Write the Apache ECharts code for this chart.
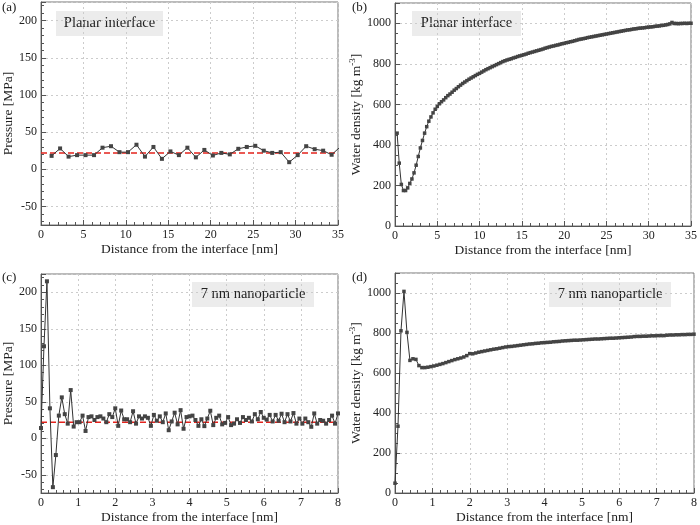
<!DOCTYPE html>
<html>
<head>
<meta charset="utf-8">
<script src="https://cdn.jsdelivr.net/npm/echarts@6/dist/echarts.min.js"></script>
<style>
  html, body { margin: 0; padding: 0; background: #fff; }
  #chart { width: 700px; height: 525px; }
</style>
</head>
<body>
<div id="chart"></div>
<script>
  // (a) pressure, planar interface, samples every 1 nm from 1.25 nm
  var pressureA = [18, 28, 17, 19, 19, 19, 29, 31, 23, 23, 33, 17, 30, 14, 24, 19, 29, 16, 26, 18.5,
    22, 20, 27.5, 30, 31.5, 25, 22, 23, 9.5, 19, 31, 27, 25, 19.5, 30];
  var startA = 1.25, stepA = 1;

  // (b) water density, planar interface, every 0.25 nm
  var densityB = [458, 310, 205, 175, 175, 188, 210, 232, 262, 300, 343, 385, 422, 458, 490, 517, 538, 558, 576, 590,
    603, 613, 622, 633, 643, 651, 660, 670, 678, 687, 695, 703, 710, 717, 724, 730, 736, 742, 748, 753,
    759, 765, 771, 776, 781, 786, 791, 796, 801, 806, 811, 815, 819, 822, 825, 829, 832, 836, 839, 842,
    845, 848, 852, 855, 858, 861, 864, 867, 870, 873, 877, 880, 883, 886, 888, 891, 893, 896, 899, 901,
    904, 906, 909, 911, 914, 917, 920, 922, 924, 926, 929, 931, 933, 935, 937, 939, 941, 943, 945, 947,
    949, 951, 953, 955, 957, 959, 961, 963, 965, 967, 968, 970, 972, 973, 975, 976, 977, 978, 980, 981,
    982, 983, 985, 986, 987, 989, 990, 992, 994, 997, 1004, 999, 999, 998, 999, 999, 1000, 999, 1000, 1000];
  var startB = 0.25, stepB = 0.25;

  // (c) pressure, 7 nm nanoparticle, every 0.08 nm
  var pressureC = [14, 126, 215, 41, -67, -23, 31, 56, 33, 20, 66, 16, 22, 22, 31, 10, 29, 30, 25, 29, 30, 27, 22, 33, 29, 41,
    17, 38, 26, 26, 22, 37, 20, 30, 27, 30, 28, 17,
    32, 24, 30, 22, 34, 11, 23, 35, 19, 38.5, 13, 29,
    30, 31, 25, 17, 26, 16.6, 27, 37.7, 18, 28, 31, 19, 21,
    29, 18, 20, 26, 21, 29, 25, 28, 23, 33, 26, 36,
    28, 25.5, 32, 23, 32, 24, 33.6, 22, 33, 23, 34.5, 20, 27,
    20, 27, 22, 15.7, 34, 20, 25, 24, 20, 25, 31, 20, 34];
  var startC = 0, stepC = 0.08;

  // (d) water density, 7 nm nanoparticle, every 0.08 nm
  var densityD = [49, 334, 811, 1008, 803, 663, 671, 668, 637, 627, 627, 629, 632,
    635, 639, 643, 647, 652, 657, 662, 667, 671, 675, 680, 687, 697,
    696, 700, 704, 707, 710, 713, 716, 719, 721, 724, 727, 730, 732,
    733, 735, 737, 739, 741, 743, 745, 746, 748, 749, 751, 752,
    753, 754, 756, 757, 758, 760, 761, 762, 763, 764, 764, 765, 766,
    767, 768, 769, 770, 770, 771, 772, 773, 774, 774, 775, 776,
    777, 778, 779, 780, 782, 783, 783, 784, 784, 785, 786, 786, 787,
    787, 787, 789, 790, 790, 791, 791, 792, 792, 793, 793, 794];
  var startD = 0, stepD = 0.08;

  // reference pressure (red dashed)
  var refPressure = 22;

  var FONT = 'Liberation Serif';

  function pairs(vals, start, step) {
    return vals.map(function (v, i) { return [+(start + i * step).toFixed(3), v]; });
  }

  function plain(v) { return String(v); }

  function xAxis(idx, max, interval) {
    return {
      type: 'value', gridIndex: idx, min: 0, max: max, interval: interval,
      name: 'Distance from the interface [nm]', nameLocation: 'middle', nameGap: 17,
      nameTextStyle: { fontFamily: FONT, fontSize: 13.5, color: '#222' },
      axisLine: { onZero: false, lineStyle: { color: '#555' } },
      axisTick: { inside: true, length: 5, lineStyle: { color: '#555' } },
      minorTick: { show: true, splitNumber: 5, length: 3, lineStyle: { color: '#555' } },
      axisLabel: { fontFamily: FONT, fontSize: 12, color: '#222', margin: 4, formatter: plain },
      splitLine: { show: true, lineStyle: { color: '#ccc', type: [2, 3] } }
    };
  }

  function yAxis(idx, opt) {
    var a = {
      type: 'value', gridIndex: idx, min: opt.min, max: opt.max,
      nameLocation: 'middle', nameGap: opt.gap,
      nameTextStyle: { fontFamily: FONT, fontSize: 13.5, color: '#222' },
      axisLine: { onZero: false, lineStyle: { color: '#555' } },
      axisTick: { inside: true, length: 5, lineStyle: { color: '#555' } },
      minorTick: { show: true, splitNumber: opt.minor, length: 3, lineStyle: { color: '#555' } },
      axisLabel: { fontFamily: FONT, fontSize: 12, color: '#222', margin: 4, formatter: plain,
        showMinLabel: opt.showMin, showMaxLabel: false },
      splitLine: { show: true, lineStyle: { color: '#ccc', type: [2, 3] } }
    };
    if (opt.interval) a.interval = opt.interval;
    if (opt.splitNumber) a.splitNumber = opt.splitNumber;
    a.name = opt.name;
    if (opt.rich) a.nameTextStyle.rich = opt.rich;
    return a;
  }

  var rich = {
    a: { fontFamily: FONT, fontSize: 13.5, color: '#222' },
    s: { fontFamily: FONT, fontSize: 9, color: '#222', verticalAlign: 'top', padding: [0, 0, 6, 0] }
  };

  function dataSeries(idx, data, size) {
    return {
      type: 'line', xAxisIndex: idx, yAxisIndex: idx, data: data,
      symbol: 'rect', symbolSize: size, z: 3,
      itemStyle: { color: '#444' },
      lineStyle: { color: '#333', width: 1 },
      animation: false
    };
  }

  function refSeries(idx, xmax) {
    return {
      type: 'line', xAxisIndex: idx, yAxisIndex: idx,
      data: [[0, refPressure], [xmax, refPressure]],
      symbol: 'none', z: 2,
      lineStyle: { color: '#e3231d', width: 1.5, type: [6, 3] },
      animation: false
    };
  }

  function label(x, y, t) {
    return { type: 'text', left: x, top: y, style: { text: t, font: '13px "Liberation Serif"', fill: '#222' } };
  }

  function box(x, y, w, h, t) {
    return {
      type: 'group', left: x, top: y,
      children: [
        { type: 'rect', shape: { x: 0, y: 0, width: w, height: h }, style: { fill: '#ececec' } },
        { type: 'text', x: w / 2, y: h / 2, style: { text: t, font: '14.5px "Liberation Serif"', fill: '#222', align: 'center', verticalAlign: 'middle' } }
      ]
    };
  }

  var gridStyle = { show: true, borderColor: '#777', borderWidth: 1, backgroundColor: 'transparent' };

  var option = {
    animation: false,
    backgroundColor: '#fff',
    grid: [
      Object.assign({ left: 39, top: 2, width: 299, height: 223 }, gridStyle),
      Object.assign({ left: 395, top: 3, width: 299, height: 223 }, gridStyle),
      Object.assign({ left: 39, top: 274, width: 299, height: 223 }, gridStyle),
      Object.assign({ left: 395, top: 273, width: 299, height: 223 }, gridStyle)
    ],
    xAxis: [
      xAxis(0, 35, 5),
      xAxis(1, 35, 5),
      xAxis(2, 8, 1),
      xAxis(3, 8, 1)
    ],
    yAxis: [
      yAxis(0, { min: -75, max: 225, splitNumber: 6, minor: 5, gap: 26, showMin: false, name: 'Pressure [MPa]' }),
      yAxis(1, { min: 0, max: 1100, interval: 200, minor: 4, gap: 30, showMin: true, name: '{a|Water density [kg m}{s|-3}{a|]}', rich: rich }),
      yAxis(2, { min: -75, max: 225, splitNumber: 6, minor: 5, gap: 26, showMin: false, name: 'Pressure [MPa]' }),
      yAxis(3, { min: 0, max: 1100, interval: 200, minor: 4, gap: 30, showMin: true, name: '{a|Water density [kg m}{s|-3}{a|]}', rich: rich })
    ],
    series: [
      refSeries(0, 35),
      dataSeries(0, pairs(pressureA, startA, stepA), 4),
      dataSeries(1, pairs(densityB, startB, stepB), 3.5),
      refSeries(2, 8),
      dataSeries(2, pairs(pressureC, startC, stepC), 4),
      dataSeries(3, pairs(densityD, startD, stepD), 3.5)
    ],
    graphic: [
      label(2, 1, '(a)'),
      label(352, 1, '(b)'),
      label(2, 271, '(c)'),
      label(352, 271, '(d)'),
      box(56, 11, 107, 25, 'Planar interface'),
      box(412, 11, 109, 25, 'Planar interface'),
      box(192, 282, 122, 25, '7 nm nanoparticle'),
      box(549, 282, 122, 25, '7 nm nanoparticle')
    ]
  };

  var chart = echarts.init(document.getElementById('chart'));
  chart.setOption(option);
</script>
</body>
</html>
